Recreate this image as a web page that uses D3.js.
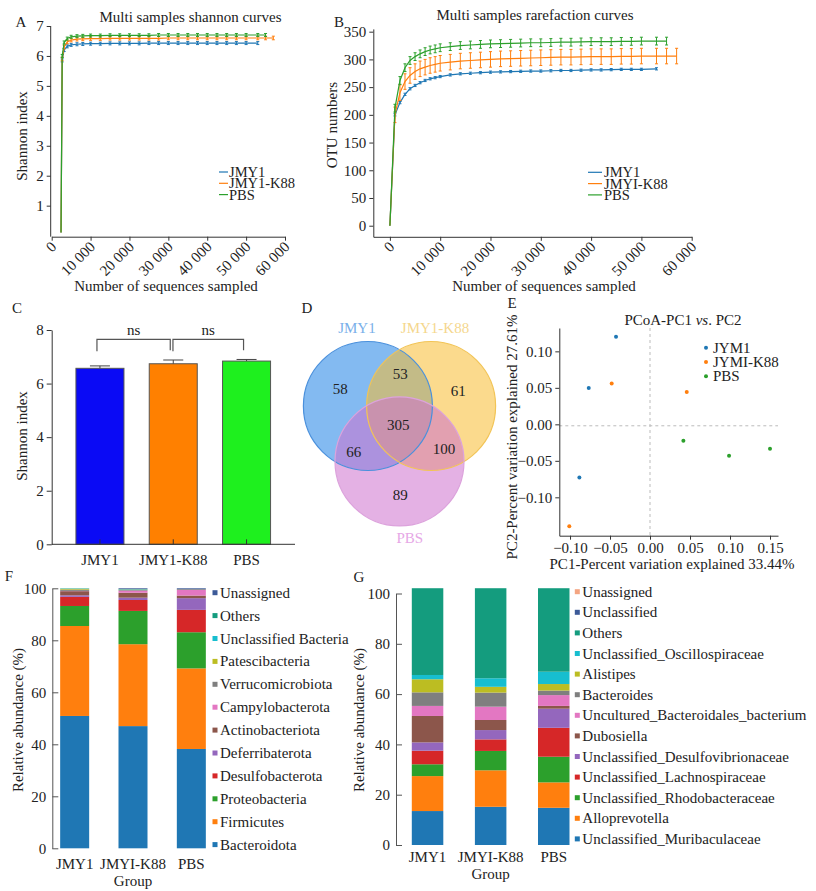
<!DOCTYPE html>
<html><head><meta charset="utf-8">
<script src="https://cdn.jsdelivr.net/npm/d3@7"></script>
<style>
body{margin:0;background:#fff}
svg text{font-family:"Liberation Serif","Times New Roman",Times,"DejaVu Serif","Noto Serif",serif;}
</style>
</head><body><svg id="c" width="816" height="891"></svg>
<script>
// ---------------- DATA ----------------
const groups = ["JMY1", "JMY1-K88", "PBS"];
const curveColors = ["#1f77b4", "#ff7f0e", "#2ca02c"];

// Panel A: Shannon rarefaction
const seqA = [2400, 2700, 3200, 4000, 5000, 6500, 8000, 10000, 12500, 15000, 17500, 20000, 22500, 25000, 27500, 30000, 32500, 35000, 37500, 40000, 42500, 45000, 47500, 50000, 53000, 55000, 57000];
const shannonJMY1 = [0.1, 5.85, 6.2, 6.32, 6.37, 6.39, 6.40, 6.41, 6.41, 6.42, 6.42, 6.42, 6.42, 6.43, 6.43, 6.43, 6.43, 6.43, 6.43, 6.43, 6.43, 6.43, 6.43, 6.43, 6.43];
const shannonK88 = [0.1, 5.9, 6.3, 6.47, 6.53, 6.56, 6.57, 6.58, 6.58, 6.59, 6.59, 6.59, 6.59, 6.59, 6.59, 6.60, 6.60, 6.60, 6.60, 6.60, 6.60, 6.60, 6.60, 6.60, 6.60, 6.60, 6.60];
const shannonPBS = [0.1, 6.0, 6.45, 6.58, 6.64, 6.66, 6.67, 6.68, 6.68, 6.69, 6.69, 6.69, 6.69, 6.69, 6.70, 6.70, 6.70, 6.70, 6.70, 6.70, 6.70, 6.70, 6.70, 6.70, 6.70, 6.70];
const shannonErr = [0.05, 0.06, 0.05];
const xTicksSeq = [0, 10000, 20000, 30000, 40000, 50000, 60000];
const yTicksA = [1, 2, 3, 4, 5, 6, 7];

// Panel B: OTU rarefaction
const seqB = [0, 1000, 2000, 3000, 4000, 5000, 6000, 7000, 8000, 9000, 10000, 12000, 14000, 16000, 18000, 20000, 22000, 24000, 26000, 28000, 30000, 32000, 34000, 36000, 38000, 40000, 42000, 44000, 46000, 48000, 50000, 53000, 55000, 57000];
const otuJMY1 = [0, 200, 222, 237, 247, 253, 258, 262, 265, 267, 269, 272, 274, 275, 276, 277, 277.5, 278, 278.5, 279, 279, 279.5, 280, 280, 280.5, 281, 281, 281.5, 282, 282, 282, 283];
const otuK88 = [0, 200, 240, 260, 271, 278, 283, 286, 289, 291, 293, 295, 297, 298, 299, 300, 301, 301.5, 302, 302.5, 303, 303.5, 304, 304, 304.5, 305, 305, 305, 305.5, 305.5, 306, 306, 306, 306];
const otuPBS = [0, 212, 262, 285, 298, 305, 310, 314, 317, 319, 321, 323, 325, 326, 327, 328, 328.5, 329, 329.5, 330, 330, 330.5, 331, 331, 331.5, 332, 332, 332, 332.5, 332.5, 333, 333, 333];
const otuErr = [2, 14, 7];
const yTicksB = [0, 50, 100, 150, 200, 250, 300, 350];

// Panel C: Shannon index bars
const shannonMean = [6.57, 6.74, 6.84];
const shannonSD = [0.09, 0.14, 0.06];
const barColorsC = ["#0a0af5", "#ff8000", "#1ef01e"];
const yTicksC = [0, 2, 4, 6, 8];

// Panel D: Venn
const vennSets = ["JMY1", "JMY1-K88", "PBS"];
const vennRegionLabels = ["58", "53", "61", "305", "66", "100", "89"];

// Panel E: PCoA
const pcoaLegend = ["JYM1", "JYMI-K88", "PBS"];
const pc1 = [-0.0425, -0.0766, -0.0883, -0.0479, 0.0459, -0.1009, 0.0417, 0.0988, 0.1500];
const pc2 = [0.120, 0.0499, -0.073, 0.0558, 0.0444, -0.1395, -0.0226, -0.0432, -0.0336];
const pcoaGroup = [0, 0, 0, 1, 1, 1, 2, 2, 2];
const xTicksE = [-0.10, -0.05, 0.00, 0.05, 0.10, 0.15];
const yTicksE = [-0.10, -0.05, 0.00, 0.05, 0.10];

// Panel F: phylum composition
const barGroupsF = ["JMY1", "JMYI-K88", "PBS"];
const phyla = ["Bacteroidota", "Firmicutes", "Proteobacteria", "Desulfobacterota", "Deferribaterota", "Actinobacteriota", "Campylobacterota", "Verrucomicrobiota", "Patescibacteria", "Unclassified Bacteria", "Others", "Unassigned"];
const phylaColors = ["#1f77b4", "#ff7f0e", "#2ca02c", "#d62728", "#9467bd", "#8c564b", "#e377c2", "#7f7f7f", "#bcbd22", "#17becf", "#149c7e", "#3c5a98"];
const phylumJMY1 = [50.9, 34.6, 7.7, 3.5, 0.6, 1.6, 0.1, 0.5, 0.3, 0.1, 0.1, 0.0];
const phylumK88 = [47.0, 31.5, 12.8, 4.2, 0.9, 1.9, 0.8, 0.3, 0.1, 0.1, 0.1, 0.3];
const phylumPBS = [38.2, 31.0, 13.9, 8.6, 4.5, 1.0, 2.2, 0.3, 0.0, 0.0, 0.0, 0.3];

// Panel G: genus composition
const genera = ["Unclassified_Muribaculaceae", "Alloprevotella", "Unclassified_Rhodobacteraceae", "Unclassified_Lachnospiraceae", "Unclassified_Desulfovibrionaceae", "Dubosiella", "Uncultured_Bacteroidales_bacterium", "Bacteroides", "Alistipes", "Unclassified_Oscillospiraceae", "Others", "Unclassified", "Unassigned"];
const generaColors = ["#1f77b4", "#ff7f0e", "#2ca02c", "#d62728", "#9467bd", "#8c564b", "#e377c2", "#7f7f7f", "#bcbd22", "#17becf", "#149c7e", "#3c5a98", "#f4a582"];
const genusJMY1 = [13.5, 13.9, 4.7, 5.4, 3.3, 10.5, 4.0, 5.4, 5.2, 1.7, 34.5, 0, 0];
const genusK88 = [15.2, 14.5, 7.7, 4.6, 3.7, 4.0, 5.3, 5.6, 2.3, 3.4, 35.8, 0, 0];
const genusPBS = [14.8, 10.1, 10.2, 11.5, 7.6, 1.1, 4.3, 1.8, 2.6, 4.9, 33.2, 0, 0];
const yTicksPct = [0, 20, 40, 60, 80, 100];

// ---------------- DRAW ----------------
const svg = d3.select("#c");
svg.append("rect").attr("width", 816).attr("height", 891).attr("fill", "#fff");
const FS = 15;

function styleAxis(g, fs) {
  g.attr("font-family", null).attr("font-size", fs || FS);
  g.selectAll("path.domain").attr("stroke", "#333");
  g.selectAll(".tick line").attr("stroke", "#333");
  g.selectAll("text").attr("fill", "#222");
  return g;
}
function txt(x, y, s, opt) {
  opt = opt || {};
  const t = svg.append("text").attr("x", x).attr("y", y).text(s)
    .attr("font-size", opt.fs || FS)
    .attr("fill", opt.fill || "#222").attr("text-anchor", opt.anchor || "middle");
  if (opt.rotate) t.attr("transform", `rotate(${opt.rotate},${x},${y})`);
  return t;
}
const fmtSeq = d => d === 0 ? "0" : d3.format(",")(d).replace(/,/g, " ");
const fmtInt = d3.format("d");

function rotatedXAxis(g) {
  g.selectAll(".tick text").attr("y", 0).attr("dy", 0).attr("text-anchor", "end")
    .attr("transform", "translate(5,11) rotate(-45)");
}

function curvePanel(xS, yS, seq, series, errs, capW) {
  series.forEach((vals, i) => {
    const pts = vals.map((v, j) => [seq[j], v]);
    svg.append("path").datum(pts)
      .attr("fill", "none").attr("stroke", curveColors[i]).attr("stroke-width", 1.2)
      .attr("d", d3.line().x(d => xS(d[0])).y(d => yS(d[1])));
    const eg = svg.append("g").attr("stroke", curveColors[i]).attr("stroke-width", 1);
    pts.slice(1).forEach(d => {
      const x = xS(d[0]);
      eg.append("line").attr("x1", x).attr("x2", x).attr("y1", yS(d[1] - errs[i])).attr("y2", yS(d[1] + errs[i]));
      eg.append("line").attr("x1", x - capW).attr("x2", x + capW).attr("y1", yS(d[1] - errs[i])).attr("y2", yS(d[1] - errs[i]));
      eg.append("line").attr("x1", x - capW).attr("x2", x + capW).attr("y1", yS(d[1] + errs[i])).attr("y2", yS(d[1] + errs[i]));
    });
  });
}

// ---- Panel A ----
{
  const xS = d3.scaleLinear().domain([0, 60000]).range([51.7, 285]);
  const yS = d3.scaleLinear().domain([0, 7]).range([235.6, 26]);
  const gx = svg.append("g").attr("transform", "translate(0,236.7)")
    .call(d3.axisBottom(xS).tickValues(xTicksSeq).tickFormat(fmtSeq).tickSize(4).tickSizeOuter(0));
  styleAxis(gx); rotatedXAxis(gx);
  const gy = svg.append("g").attr("transform", "translate(50.7,0)")
    .call(d3.axisLeft(yS).tickValues(yTicksA).tickFormat(fmtInt).tickSize(4).tickSizeOuter(0));
  styleAxis(gy);
  gy.select("path.domain").attr("d", "M0,236.7V26");
  curvePanel(xS, yS, seqA, [shannonJMY1, shannonK88, shannonPBS], shannonErr, 1.5);
  txt(190.5, 22, "Multi samples shannon curves");
  txt(21, 27, "A");
  txt(27, 136, "Shannon index", { rotate: -90 });
  txt(166, 291, "Number of sequences sampled");
  groups.forEach((gname, i) => {
    const y = 172 + i * 11.3;
    svg.append("line").attr("x1", 219).attr("x2", 228).attr("y1", y).attr("y2", y).attr("stroke", curveColors[i]).attr("stroke-width", 1.2);
    txt(229, y + 5, gname, { anchor: "start", fs: 14.5 });
  });
}

// ---- Panel B ----
{
  const xS = d3.scaleLinear().domain([-3300, 60000]).range([373.3, 691.7]);
  const yS = d3.scaleLinear().domain([-20, 355]).range([236.8, 28.9]);
  const gx = svg.append("g").attr("transform", "translate(0,236.8)")
    .call(d3.axisBottom(xS).tickValues(xTicksSeq).tickFormat(fmtSeq).tickSize(4).tickSizeOuter(0));
  styleAxis(gx); rotatedXAxis(gx);
  const gy = svg.append("g").attr("transform", "translate(373.3,0)")
    .call(d3.axisLeft(yS).tickValues(yTicksB).tickFormat(fmtInt).tickSize(4).tickSizeOuter(0));
  styleAxis(gy);
  curvePanel(xS, yS, seqB, [otuJMY1, otuK88, otuPBS], otuErr, 1.5);
  txt(535, 20, "Multi samples rarefaction curves");
  txt(339, 27, "B");
  txt(337, 125, "OTU numbers", { rotate: -90 });
  txt(544, 291, "Number of sequences sampled");
  const legNames = ["JMY1", "JMYI-K88", "PBS"];
  legNames.forEach((gname, i) => {
    const y = 172.3 + i * 11.3;
    svg.append("line").attr("x1", 588).attr("x2", 602).attr("y1", y).attr("y2", y).attr("stroke", curveColors[i]).attr("stroke-width", 1.2);
    txt(604, y + 5, gname, { anchor: "start", fs: 14.5 });
  });
}

// ---- Panel C ----
{
  const xS = d3.scaleBand().domain(groups).range([63.3, 283.2]);
  const yS = d3.scaleLinear().domain([0, 8]).range([544.3, 330]);
  const bw = xS.bandwidth() * 0.655;
  groups.forEach((gname, i) => {
    const cx = xS(gname) + xS.bandwidth() / 2;
    svg.append("rect").attr("x", cx - bw / 2).attr("width", bw)
      .attr("y", yS(shannonMean[i])).attr("height", yS(0) - yS(shannonMean[i]))
      .attr("fill", barColorsC[i]).attr("stroke", "#555").attr("stroke-width", 1);
    const top = yS(shannonMean[i] + shannonSD[i]);
    svg.append("line").attr("x1", cx).attr("x2", cx).attr("y1", yS(shannonMean[i])).attr("y2", top).attr("stroke", "#444");
    svg.append("line").attr("x1", cx - 10).attr("x2", cx + 10).attr("y1", top).attr("y2", top).attr("stroke", "#444");
  });
  const gx = svg.append("g").attr("transform", "translate(0,544.3)")
    .call(d3.axisBottom(xS).tickSizeInner(-5).tickSizeOuter(0).tickPadding(10));
  styleAxis(gx);
  gx.select("path.domain").attr("d", "M51.7,0H295");
  const gy = svg.append("g").attr("transform", "translate(51.7,0)")
    .call(d3.axisLeft(yS).tickValues(yTicksC).tickFormat(fmtInt).tickSize(5).tickSizeOuter(0));
  styleAxis(gy);
  const c = groups.map(g => xS(g) + xS.bandwidth() / 2);
  const by = 339.3;
  [[c[0] - 3, c[1] - 3], [c[1] - 0.3, c[2] - 3]].forEach(([a, b]) => {
    svg.append("path").attr("d", `M${a},${by + 12}V${by}H${b}V${by + 11}`)
      .attr("fill", "none").attr("stroke", "#555").attr("stroke-width", 1.2);
    txt((a + b) / 2, by - 4, "ns");
  });
  txt(17, 313, "C");
  txt(27, 436, "Shannon index", { rotate: -90 });
}

// ---- Panel D: Venn ----
{
  const u = d3.scaleLinear().domain([0, 1]).range([0, 64.5]);
  const ox = 399.5, oy = 424.7;
  const centers = [[-0.49, -0.29], [0.49, -0.29], [0, 0.57]];
  const fills = ["#1e82e6", "#f7bc2f", "#cd71cd"];
  const strokes = ["#4a90dc", "#f2c456", "#dca2dc"];
  centers.forEach((c, i) => {
    svg.append("circle").attr("cx", ox + u(c[0])).attr("cy", oy + u(c[1])).attr("r", u(1))
      .attr("fill", fills[i]).attr("fill-opacity", 0.55);
  });
  centers.forEach((c, i) => {
    svg.append("circle").attr("cx", ox + u(c[0])).attr("cy", oy + u(c[1])).attr("r", u(1))
      .attr("fill", "none").attr("stroke", strokes[i]).attr("stroke-width", 1.2);
  });
  const regionPos = [[-0.92, -0.55], [0.01, -0.79], [0.91, -0.52], [-0.02, 0.01], [-0.71, 0.42], [0.69, 0.38], [0.01, 1.09]];
  vennRegionLabels.forEach((s, i) => txt(ox + u(regionPos[i][0]), oy + u(regionPos[i][1]) + 5, s));
  const labelPos = [[-0.66, -1.50], [0.55, -1.50], [0.16, 1.75]];
  const labelCol = ["#7ab0ea", "#f5d78e", "#e6a8e6"];
  vennSets.forEach((s, i) => txt(ox + u(labelPos[i][0]), oy + u(labelPos[i][1]) + 5, s, { fill: labelCol[i] }));
  txt(307, 313, "D");
}

// ---- Panel E: PCoA ----
{
  const xS = d3.scaleLinear().domain([-0.1134, 0.16]).range([559.3, 778]);
  const yS = d3.scaleLinear().domain([-0.1526, 0.132]).range([535.7, 328]);
  const fmt = d3.format(".2f");
  svg.append("line").attr("x1", 559.3).attr("x2", 778).attr("y1", yS(-0.002)).attr("y2", yS(-0.002))
    .attr("stroke", "#bbb").attr("stroke-dasharray", "3,3");
  svg.append("line").attr("x1", xS(0)).attr("x2", xS(0)).attr("y1", 328).attr("y2", 535.7)
    .attr("stroke", "#bbb").attr("stroke-dasharray", "3,3");
  const gx = svg.append("g").attr("transform", "translate(0,535.7)")
    .call(d3.axisBottom(xS).tickValues(xTicksE).tickFormat(fmt).tickSize(4).tickSizeOuter(0));
  styleAxis(gx);
  const gy = svg.append("g").attr("transform", "translate(559.3,0)")
    .call(d3.axisLeft(yS).tickValues(yTicksE).tickFormat(fmt).tickSize(4).tickSizeOuter(0));
  styleAxis(gy);
  pc1.forEach((v, i) => {
    svg.append("circle").attr("cx", xS(v)).attr("cy", yS(pc2[i])).attr("r", 2)
      .attr("fill", curveColors[pcoaGroup[i]]);
  });
  pcoaLegend.forEach((s, i) => {
    const y = 347.7 + i * 14.3;
    svg.append("circle").attr("cx", 706).attr("cy", y).attr("r", 2).attr("fill", curveColors[i]);
    txt(713, y + 5, s, { anchor: "start" });
  });
  const t = txt(683, 325, "PCoA-PC1 ");
  t.append("tspan").attr("font-style", "italic").text("vs");
  t.append("tspan").text(". PC2");
  txt(672, 569, "PC1-Percent variation explained 33.44%");
  txt(517, 437, "PC2-Percent variation explained 27.61%", { rotate: -90 });
  txt(512, 308, "E");
}

// ---- Stacked bar helper ----
function stackedPanel(cfg) {
  const xS = d3.scaleBand().domain(barGroupsF).range(cfg.xr);
  const yS = d3.scaleLinear().domain([0, 100]).range(cfg.yr);
  const rows = barGroupsF.map((g, gi) => {
    const o = { group: g };
    cfg.keys.forEach((k, ki) => o[k] = cfg.values[gi][ki]);
    return o;
  });
  const series = d3.stack().keys(cfg.keys)(rows);
  const bw = cfg.bw;
  series.forEach((s, si) => {
    svg.append("g").attr("fill", cfg.colors[si]).selectAll("rect").data(s).join("rect")
      .attr("x", d => xS(d.data.group) + xS.bandwidth() / 2 - bw / 2)
      .attr("width", bw)
      .attr("y", d => yS(d[1]))
      .attr("height", d => Math.max(0, yS(d[0]) - yS(d[1])));
  });
  const gy = svg.append("g").attr("transform", `translate(${cfg.ax},0)`)
    .call(d3.axisLeft(yS).tickValues(yTicksPct).tickFormat(fmtInt).tickSizeInner(-6).tickSizeOuter(0).tickPadding(6));
  styleAxis(gy);
  gy.selectAll("path.domain,.tick line").attr("stroke", "#555");
  barGroupsF.forEach(g => txt(xS(g) + xS.bandwidth() / 2, cfg.labY, g));
  txt(xS(barGroupsF[1]) + xS.bandwidth() / 2, cfg.labY + 16.5, "Group");
  txt(cfg.ylabX, 720, "Relative abundance (%)", { rotate: -90 });
  const n = cfg.keys.length;
  cfg.keys.slice().reverse().forEach((k, i) => {
    const y = cfg.legY0 + i * cfg.legStep;
    svg.append("rect").attr("x", cfg.legX - 2.5).attr("y", y - 2.5).attr("width", 5).attr("height", 5)
      .attr("fill", cfg.colors[n - 1 - i]);
    txt(cfg.legX + 5, y + 5, k, { anchor: "start" });
  });
}

// ---- Panel F ----
stackedPanel({
  keys: phyla, colors: phylaColors, values: [phylumJMY1, phylumK88, phylumPBS],
  xr: [45.5, 220.5], yr: [848.3, 588.3], bw: 29, ax: 52.3,
  labY: 869, ylabX: 23, legX: 215, legY0: 592.7, legStep: 22.9
});
txt(9, 581, "F");

// ---- Panel G ----
stackedPanel({
  keys: genera, colors: generaColors, values: [genusJMY1, genusK88, genusPBS],
  xr: [396, 585.3], yr: [845, 593.5], bw: 31.5, ax: 396,
  labY: 862, ylabX: 364, legX: 577.3, legY0: 591.7, legStep: 20.6
});
txt(359, 582, "G");
</script>
</body></html>
